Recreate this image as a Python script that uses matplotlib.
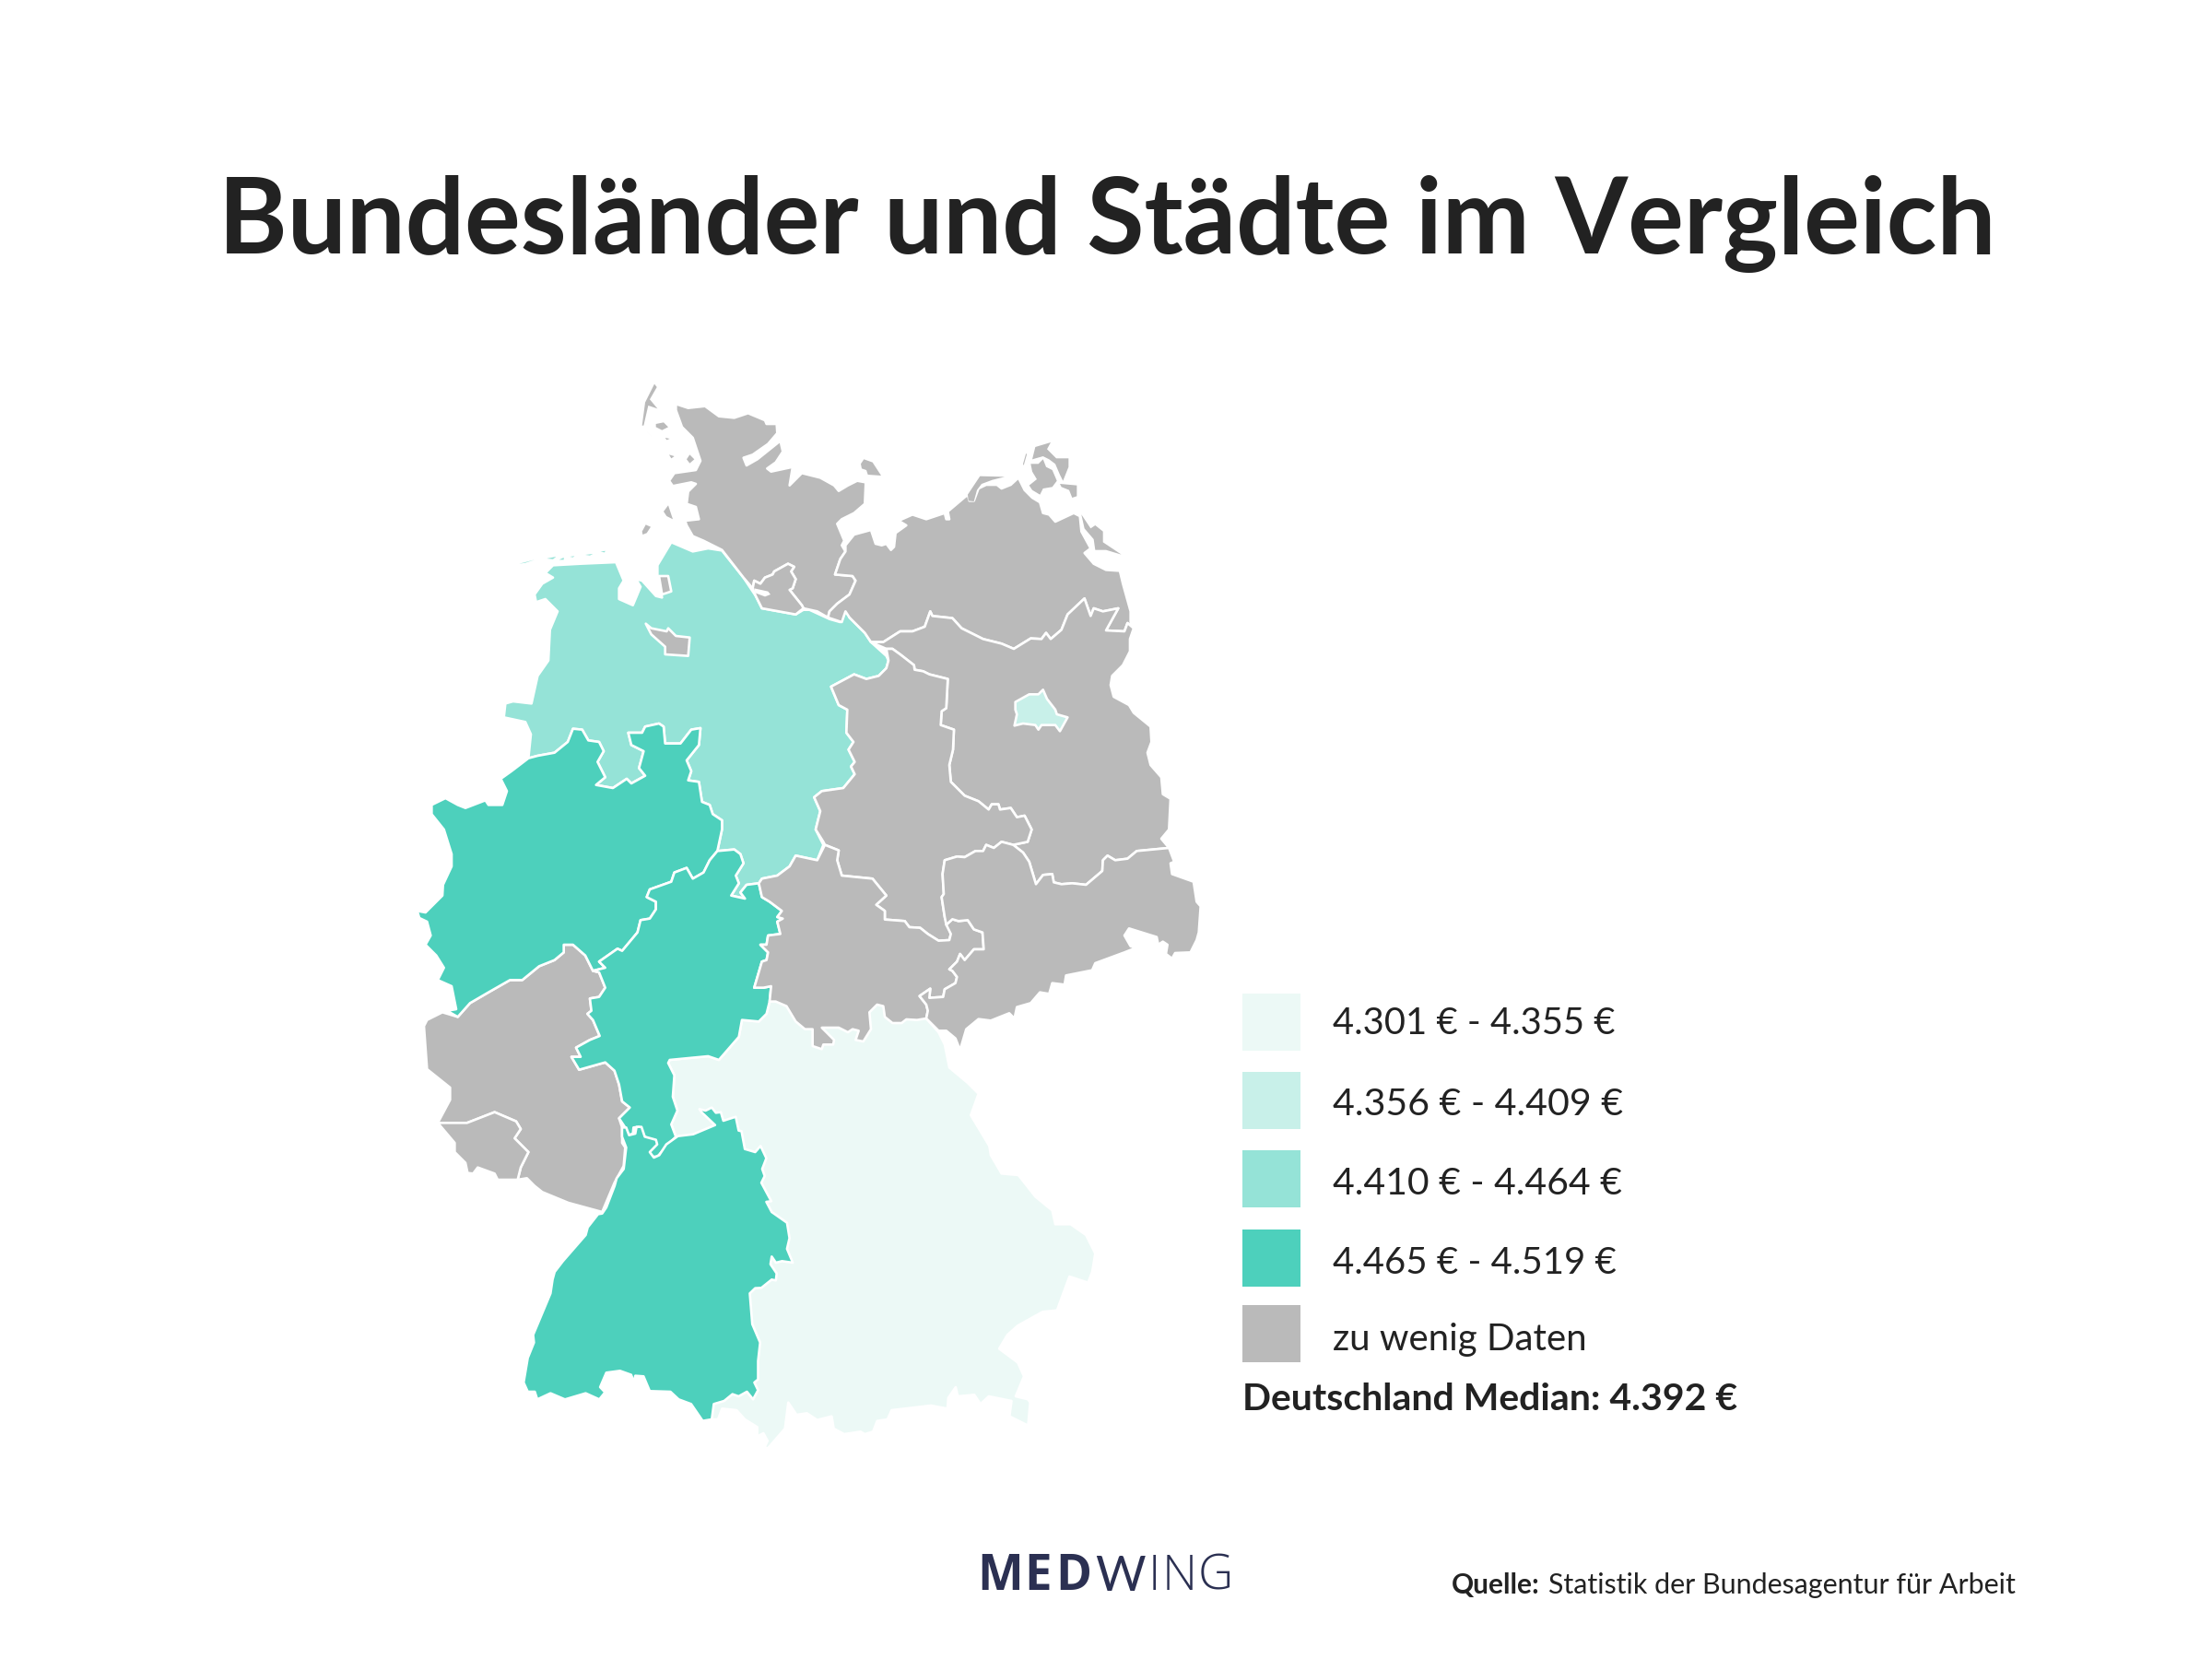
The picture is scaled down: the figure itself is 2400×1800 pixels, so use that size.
import matplotlib
matplotlib.use("Agg")
import matplotlib.pyplot as plt
from matplotlib.patches import Polygon, Rectangle

Z1 = (430, 400, 3, 3)
Z2 = (830, 400, 3, 3)
Z3 = (430, 900, 3, 3)
Z4 = (830, 900, 3, 3)
Z5 = (530, 1200, 2.229, 3)


def crop(z, pts):
    return [(z[0] + x / z[2], z[1] + y / z[3]) for x, y in pts]


LEGEND_LABELS = ["4.301 € - 4.355 €", "4.356 € - 4.409 €", "4.410 € - 4.464 €",
                 "4.465 € - 4.519 €", "zu wenig Daten"]
LEGEND_COLORS = ["#ECF9F6", "#C8F0E9", "#95E3D7", "#4DD0BC", "#BABABA"]
MEDIAN_TEXT = "Deutschland Median: 4.392 €"

BAYERN = (
    crop(Z3, [(910, 1000), (895, 960), (915, 915), (900, 870), (905, 800), (885, 760),
              (890, 750), (1015, 738), (1050, 750), (1115, 675), (1125, 620), (1180, 625),
              (1205, 600), (1215, 560)])
    + crop(Z4, [(200, 500), (500, 600), (525, 615), (565, 660), (585, 700), (600, 775),
                (660, 825), (695, 860), (670, 930), (730, 1030), (735, 1060), (770, 1120),
                (825, 1125), (880, 1195), (935, 1240), (945, 1285), (995, 1285), (1045, 1320),
                (1075, 1380), (1065, 1440)])
    + crop(Z5, [(1450, 575), (1405, 555), (1375, 665), (1340, 670), (1280, 715), (1255, 745),
                (1235, 790), (1280, 835), (1295, 880), (1275, 945), (1305, 955), (1310, 965),
                (1305, 1040), (1260, 1010), (1265, 960), (1210, 945), (1190, 970), (1175, 940),
                (1135, 945), (1130, 915), (1112, 950), (1110, 985), (1070, 975), (975, 990),
                (965, 1020), (940, 1025), (930, 1060), (910, 1068), (900, 1060), (860, 1068),
                (835, 1050), (830, 1010), (795, 1022), (770, 1000), (745, 1005), (725, 965),
                (717, 1050), (675, 1115), (668, 1110), (675, 1090), (665, 1065), (650, 1075),
                (650, 1045), (620, 1020), (600, 990), (565, 985), (555, 1020), (540, 1020),
                (500, 500), (440, 130)])
)

NIEDERSACHSEN = (
    crop(Z1, [(895, 565), (965, 595), (1015, 585), (1060, 592), (1130, 680), (1170, 740),
              (1190, 780), (1300, 800), (1325, 785), (1345, 785), (1410, 815), (1445, 825),
              (1455, 795), (1470, 795)])
    + crop(Z2, [(275, 810), (325, 860), (345, 890), (395, 935), (402, 950), (395, 975),
                (370, 1000), (330, 1010), (290, 995), (215, 1035), (240, 1095), (268, 1110),
                (265, 1185), (288, 1215), (272, 1240), (292, 1280), (280, 1295), (292, 1320),
                (255, 1365), (185, 1375), (160, 1395), (180, 1440), (165, 1500)])
    + crop(Z3, [(1390, 50), (1370, 100), (1300, 85), (1280, 120), (1240, 150), (1190, 160),
                (1180, 175), (1140, 180), (1120, 205), (1135, 225), (1090, 215), (1115, 175),
                (1105, 150), (1130, 110), (1120, 80), (1100, 65), (1045, 70), (1060, 0)])
    + crop(Z1, [(1060, 1470), (1030, 1450), (1020, 1420), (995, 1410), (985, 1345), (950, 1340),
                (960, 1310), (945, 1275), (985, 1225), (990, 1170), (960, 1175), (925, 1220),
                (875, 1220), (870, 1165), (855, 1155), (810, 1165), (800, 1185), (755, 1185),
                (765, 1225), (805, 1245), (790, 1300), (810, 1325), (765, 1350), (750, 1335),
                (705, 1365), (650, 1355), (680, 1330), (655, 1280), (675, 1245), (660, 1215),
                (625, 1210), (605, 1175), (575, 1172), (558, 1215), (515, 1250), (460, 1260),
                (430, 1268), (438, 1190), (420, 1150), (350, 1135), (355, 1090), (380, 1083),
                (440, 1090), (460, 1000), (495, 950), (500, 850), (525, 790), (485, 750),
                (455, 760), (450, 735), (475, 700), (510, 680), (485, 665), (510, 640),
                (600, 635), (715, 630), (740, 690), (725, 715), (725, 750), (770, 770),
                (795, 710), (780, 685), (800, 690), (845, 740), (865, 745), (850, 670),
                (850, 640)])
)
OSTFRIESISCHE_INSELN = [
    crop(Z1, [(400, 635), (450, 622), (420, 632)]),
    crop(Z1, [(490, 618), (520, 612), (510, 620)]),
    crop(Z1, [(530, 622), (545, 615), (545, 622)]),
    crop(Z1, [(565, 612), (580, 610), (575, 614)]),
    crop(Z1, [(615, 606), (640, 603), (630, 608)]),
    crop(Z1, [(665, 596), (680, 593), (678, 598)]),
]

NRW = (
    crop(Z1, [(430, 1268), (460, 1260), (515, 1250), (558, 1215), (575, 1172), (605, 1175),
              (625, 1210), (660, 1215), (675, 1245), (655, 1280), (680, 1330), (650, 1355),
              (705, 1365), (750, 1335), (765, 1350), (810, 1325), (790, 1300), (805, 1245),
              (765, 1225), (755, 1185), (800, 1185), (810, 1165), (855, 1155), (870, 1165),
              (875, 1220), (925, 1220), (960, 1175), (990, 1170), (985, 1225), (945, 1275),
              (960, 1310), (950, 1340), (985, 1345), (995, 1410), (1020, 1420), (1030, 1450),
              (1060, 1470), (1060, 1500)])
    + crop(Z3, [(1045, 70), (1020, 100), (1000, 140), (965, 160), (945, 125), (905, 140),
                (895, 170), (825, 195), (815, 220), (845, 235), (845, 260), (825, 290),
                (795, 295), (785, 335), (760, 365), (735, 395), (720, 388), (660, 430),
                (680, 450), (640, 460), (615, 410), (575, 375), (545, 375), (545, 400),
                (515, 425), (465, 445), (410, 490), (370, 490), (300, 530), (240, 565),
                (200, 610), (165, 590), (195, 585), (180, 510), (135, 490), (155, 450),
                (130, 410), (95, 375), (112, 345), (100, 300), (75, 288), (68, 265), (95, 270),
                (150, 215), (152, 180), (180, 120), (180, 80), (155, 0)])
    + crop(Z1, [(115, 1450), (115, 1420), (160, 1398), (200, 1420), (225, 1430), (290, 1405),
                (300, 1420), (345, 1420), (360, 1375), (340, 1335), (375, 1310)])
)

HESSEN = crop(Z3, [
    (1045, 70), (1100, 65), (1120, 80), (1130, 110), (1105, 150), (1115, 175), (1090, 215),
    (1135, 225), (1120, 205), (1140, 180), (1180, 175), (1190, 220), (1215, 235), (1255, 265),
    (1240, 285), (1258, 290), (1240, 300), (1250, 340), (1210, 345), (1205, 375), (1185, 375),
    (1210, 400), (1205, 425), (1190, 430), (1165, 515), (1195, 515), (1220, 510), (1215, 560),
    (1205, 600), (1180, 625), (1125, 620), (1115, 675), (1050, 750), (1015, 738), (890, 750),
    (885, 760), (905, 800), (900, 870), (915, 915), (895, 960), (910, 1000), (880, 1030),
    (850, 1065), (825, 1065), (820, 1050), (845, 1020), (800, 995), (790, 968), (772, 970),
    (770, 990), (755, 995), (745, 970), (725, 940), (760, 905), (735, 885), (725, 830),
    (710, 785), (680, 758), (595, 782), (570, 740), (600, 740), (585, 710), (630, 685),
    (662, 672), (640, 620), (622, 600), (635, 590), (630, 550), (660, 545), (680, 515),
    (660, 465), (640, 460), (680, 450), (660, 430), (720, 388), (735, 395), (760, 365),
    (785, 335), (795, 295), (825, 290), (845, 260), (845, 235), (815, 220), (825, 195),
    (895, 170), (905, 140), (945, 125), (965, 160), (1000, 140), (1020, 100),
])

BADEN_WUERTTEMBERG = crop(Z5, [
    (323, 70), (333, 70), (340, 95), (355, 90), (358, 68), (370, 68), (378, 100), (405, 110),
    (408, 125), (390, 150), (400, 168), (413, 160), (430, 125), (458, 98), (495, 92),
    (548, 62), (515, 20), (510, 10), (525, 15), (540, 5), (550, 22), (562, 20), (568, 48),
    (598, 35), (605, 80), (612, 82), (620, 140), (645, 150), (658, 130), (672, 170),
    (662, 205), (668, 228), (660, 250), (684, 310), (672, 312), (685, 345), (722, 380),
    (728, 430), (722, 465), (736, 510), (710, 505), (695, 510), (685, 490), (682, 515),
    (697, 545), (695, 568), (685, 565), (660, 592), (645, 593), (632, 610), (638, 710),
    (657, 770), (652, 830), (652, 890), (643, 900), (652, 925), (640, 955), (625, 930),
    (605, 945), (590, 938), (570, 960), (545, 970), (540, 1020), (518, 1025), (490, 970),
    (460, 955), (440, 930), (390, 928), (375, 880), (355, 878), (352, 900), (345, 875),
    (318, 862), (285, 868), (270, 915), (282, 932), (268, 955), (235, 935), (185, 955),
    (150, 935), (118, 955), (112, 930), (95, 930), (85, 900), (95, 820), (110, 770),
    (108, 745), (150, 610), (155, 565), (160, 540), (180, 505), (235, 420), (240, 395),
    (265, 352), (275, 350), (285, 330), (305, 260), (310, 235), (327, 205), (333, 135),
    (323, 100),
])

RHEINLAND_PFALZ = crop(Z3, [
    (545, 375), (575, 375), (615, 410), (640, 460), (660, 465), (680, 515), (660, 545),
    (630, 550), (635, 590), (622, 600), (640, 620), (662, 672), (630, 685), (585, 710),
    (600, 740), (570, 740), (595, 782), (680, 758), (710, 785), (725, 830), (735, 885),
    (760, 905), (725, 940), (735, 970), (735, 1020), (745, 1035), (740, 1095), (710, 1150),
    (670, 1245), (560, 1215), (475, 1180), (450, 1160), (425, 1135), (395, 1140), (405, 1100),
    (430, 1050), (385, 1005), (405, 975), (390, 950), (320, 920), (230, 955), (135, 955),
    (175, 880), (175, 840), (100, 780), (90, 640), (100, 620), (150, 595), (200, 610),
    (240, 565), (300, 530), (370, 490), (410, 490), (465, 445), (515, 425), (545, 400),
])

SAARLAND = crop(Z3, [
    (135, 955), (230, 955), (320, 920), (390, 950), (405, 975), (385, 1005), (430, 1050),
    (405, 1100), (395, 1140), (330, 1140), (320, 1120), (265, 1100), (250, 1120), (232, 1118),
    (225, 1085), (190, 1050), (190, 1020),
])

HAMBURG_RAND = [(1165, 690), (1185, 700), (1200, 680), (1225, 670), (1230, 660), (1275, 635),
                (1295, 645), (1285, 660), (1300, 685), (1290, 715), (1280, 720), (1320, 770),
                (1325, 780)]
HAMBURG = crop(Z1, HAMBURG_RAND + [(1300, 800), (1190, 780), (1170, 740), (1160, 715)])
ELBE = crop(Z1, [(1165, 715), (1210, 725), (1218, 735), (1200, 742), (1168, 730)])

SCHLESWIG_HOLSTEIN = (
    crop(Z1, [(910, 115), (950, 128), (1005, 122), (1050, 155), (1100, 160), (1145, 145),
              (1200, 168), (1205, 180), (1238, 180), (1240, 210), (1210, 245), (1160, 280),
              (1130, 290), (1140, 315), (1175, 295), (1250, 235), (1258, 270), (1235, 305),
              (1207, 325), (1220, 335), (1290, 320), (1280, 380), (1320, 340), (1380, 355),
              (1425, 380), (1440, 398), (1470, 380)])
    + crop(Z2, [(300, 365), (328, 370), (325, 440), (290, 470), (250, 490), (235, 505),
                (258, 560), (250, 575), (262, 595), (245, 620), (228, 670), (285, 675),
                (295, 690), (275, 735), (235, 765), (210, 790), (205, 810), (170, 790),
                (125, 780)])
    + crop(Z1, HAMBURG_RAND[::-1] + [(1160, 715), (1130, 680), (1060, 590), (1000, 560),
                                     (965, 545), (945, 510), (940, 495), (985, 490), (975, 450),
                                     (945, 440), (950, 400), (975, 375), (960, 370), (900, 382),
                                     (888, 365), (905, 340), (975, 330), (990, 300), (965, 225),
                                     (930, 190), (910, 135)])
)
SH_INSELN = [
    crop(Z1, [(840, 50), (848, 60), (825, 100), (850, 130), (820, 120), (805, 185), (800, 185),
              (810, 110)]),
    crop(Z1, [(845, 180), (870, 175), (885, 190), (865, 200), (845, 190)]),
    crop(Z1, [(815, 205), (830, 220), (825, 215)]),
    crop(Z1, [(945, 295), (955, 280), (970, 295), (955, 308)]),
    crop(Z1, [(875, 225), (890, 228), (880, 232)]),
    crop(Z1, [(888, 280), (905, 285), (895, 292)]),
    crop(Z1, [(870, 465), (885, 445), (900, 490), (880, 480)]),
    crop(Z1, [(800, 530), (812, 508), (828, 515), (815, 535), (802, 540)]),
    crop(Z2, [(312, 310), (322, 295), (350, 305), (378, 348), (335, 345), (330, 330), (315, 325)]),
]

MV_SUED = [(1200, 845), (1180, 828), (1170, 855), (1110, 852), (1150, 780), (1100, 790),
           (1070, 780), (1060, 805), (1040, 748), (985, 800), (965, 850), (930, 880),
           (915, 860), (900, 880), (865, 878), (810, 912), (770, 895), (710, 880), (640, 845),
           (610, 812), (545, 805), (538, 790), (520, 840), (480, 855), (440, 855), (385, 890),
           (345, 890)]
MECKLENBURG_VORPOMMERN = crop(Z2, [
    (262, 575), (290, 540), (345, 525), (360, 570), (380, 575), (395, 570), (410, 590),
    (420, 580), (425, 535), (460, 510), (435, 495), (480, 475), (525, 490), (585, 470),
    (590, 490), (600, 490), (595, 465), (660, 410), (665, 430), (680, 430), (695, 390),
    (720, 378), (755, 378), (770, 390), (800, 378), (825, 355), (845, 395), (870, 420),
    (895, 435), (905, 470), (925, 475), (945, 498), (1005, 470), (1025, 480), (1030, 530),
    (1060, 585), (1040, 600), (1070, 635), (1110, 655), (1155, 658), (1165, 700), (1190, 790),
    (1190, 825),
] + MV_SUED + [
    (325, 860), (275, 810), (262, 790), (250, 825), (205, 810), (210, 790), (235, 765),
    (275, 735), (295, 690), (285, 675), (228, 670), (245, 620), (262, 595),
])
MV_INSELN = [
    crop(Z2, [(700, 350), (780, 352), (740, 362), (705, 375), (690, 395), (680, 432), (662, 430),
              (660, 410)]),
    crop(Z2, [(865, 310), (890, 310), (905, 295), (915, 320), (935, 330), (950, 365), (935, 385),
              (905, 390), (895, 410), (870, 395), (860, 380), (885, 360), (870, 335)]),
    crop(Z2, [(880, 255), (930, 240), (918, 262), (948, 292), (988, 292), (988, 320), (970, 365),
              (960, 345), (945, 310), (925, 295), (905, 285), (870, 295)]),
    crop(Z2, [(960, 375), (1015, 380), (1015, 415), (1000, 420), (990, 395), (965, 385)]),
    crop(Z2, [(850, 275), (852, 280), (842, 315), (840, 310)]),
    crop(Z2, [(1030, 475), (1060, 520), (1075, 510), (1100, 530), (1100, 565), (1160, 605),
              (1110, 590), (1075, 590), (1070, 555), (1040, 520)]),
]

BRANDENBURG = (
    crop(Z2, MV_SUED + [(395, 912), (415, 912), (440, 930), (485, 965), (487, 980),
                        (515, 985), (535, 995), (595, 1010), (590, 1105), (575, 1115),
                        (572, 1160), (615, 1175), (612, 1240), (600, 1290), (605, 1345),
                        (650, 1390), (695, 1408), (728, 1435), (738, 1418), (760, 1418),
                        (765, 1435), (800, 1430), (820, 1460), (845, 1455), (868, 1500)])
    + crop(Z4, [(855, 40), (808, 50), (840, 75), (860, 105), (882, 178), (905, 148), (935, 145),
                (940, 172), (965, 178), (1000, 175), (1045, 180), (1098, 135), (1100, 100),
                (1115, 85), (1140, 100), (1180, 95), (1210, 70), (1315, 60), (1290, 30)])
    + crop(Z2, [(1315, 1500), (1320, 1400), (1295, 1385), (1290, 1330), (1255, 1290),
                (1245, 1250), (1258, 1215), (1255, 1165), (1200, 1120), (1185, 1095),
                (1135, 1068), (1125, 1030), (1130, 1000), (1165, 965), (1188, 920), (1188, 880)])
)

BERLIN = crop(Z2, [
    (815, 1085), (860, 1060), (890, 1060), (905, 1045), (918, 1075), (945, 1110), (950, 1125),
    (985, 1135), (960, 1180), (945, 1160), (900, 1160), (890, 1175), (880, 1160), (840, 1155),
    (812, 1162), (820, 1125), (815, 1110),
])

SACHSEN_ANHALT = (
    crop(Z2, [(215, 1035), (290, 995), (330, 1010), (370, 1000), (395, 975), (402, 950),
              (395, 912), (415, 912), (440, 930), (485, 965), (487, 980), (515, 985),
              (535, 995), (595, 1010), (590, 1105), (575, 1115), (572, 1160), (615, 1175),
              (612, 1240), (600, 1290), (605, 1345), (650, 1390), (695, 1408), (728, 1435),
              (738, 1418), (760, 1418), (765, 1435), (800, 1430), (820, 1460), (845, 1455),
              (868, 1500)])
    + crop(Z4, [(855, 40), (808, 50), (770, 40), (745, 60), (720, 50), (710, 70), (685, 70),
                (650, 90), (625, 88), (585, 100), (578, 145), (582, 210), (575, 220), (585, 285),
                (605, 340), (600, 360), (565, 362), (530, 340), (505, 320), (470, 318),
                (455, 298), (390, 293), (390, 265), (362, 245), (395, 215), (350, 160),
                (250, 150), (235, 100), (240, 68), (195, 50), (190, 40), (165, 0)])
    + crop(Z2, [(180, 1440), (160, 1395), (185, 1375), (255, 1365), (292, 1320), (280, 1295),
                (292, 1280), (272, 1240), (288, 1215), (265, 1185), (268, 1110), (240, 1095)])
)

THUERINGEN = (
    crop(Z4, [(195, 50), (240, 68), (235, 100), (250, 150), (350, 160), (395, 215), (362, 245),
              (390, 265), (390, 293), (455, 298), (470, 318), (505, 320), (530, 340), (565, 362),
              (600, 360), (605, 340), (590, 310), (610, 292), (630, 298), (660, 295), (680, 325),
              (708, 335), (712, 390), (680, 390), (650, 425), (635, 405), (625, 430), (600, 455),
              (610, 460), (625, 480), (620, 500), (585, 520), (580, 545), (535, 548), (538, 518),
              (503, 542), (525, 570), (530, 590), (525, 615), (495, 620), (460, 618), (445, 630),
              (415, 630), (390, 610), (385, 575), (365, 570), (340, 595), (345, 650), (320, 690),
              (295, 685), (305, 655), (285, 650), (270, 660), (240, 645), (185, 645), (225, 685),
              (222, 700), (190, 700), (185, 715), (155, 705), (155, 650), (130, 650), (100, 625),
              (70, 575), (35, 560)])
    + crop(Z3, [(1215, 560), (1220, 510), (1195, 515), (1165, 515), (1190, 430), (1205, 425),
                (1210, 400), (1185, 375), (1205, 375), (1210, 345), (1250, 340), (1240, 300),
                (1258, 290), (1240, 285), (1255, 265), (1215, 235), (1190, 220), (1180, 175),
                (1190, 160), (1240, 150), (1280, 120), (1300, 85), (1370, 100), (1390, 60)])
)

SACHSEN = crop(Z4, [
    (808, 50), (840, 75), (860, 105), (882, 178), (905, 148), (935, 145), (940, 172), (965, 178),
    (1000, 175), (1045, 180), (1098, 135), (1100, 100), (1115, 85), (1140, 100), (1180, 95),
    (1210, 70), (1315, 60), (1332, 105), (1320, 110), (1325, 145), (1395, 170), (1405, 235),
    (1418, 250), (1412, 335), (1405, 360), (1385, 400), (1335, 402), (1325, 420), (1305, 405),
    (1310, 375), (1295, 365), (1280, 375), (1275, 350), (1185, 322), (1170, 345), (1190, 380),
    (1208, 385), (1170, 400), (1075, 435), (1065, 458), (980, 475), (975, 505), (935, 500),
    (925, 535), (895, 530), (865, 565), (820, 578), (812, 615), (795, 598), (735, 622),
    (695, 617), (655, 650), (635, 718), (620, 680), (590, 655), (565, 655), (525, 615),
    (530, 590), (525, 570), (503, 542), (538, 518), (535, 548), (580, 545), (585, 520),
    (620, 500), (625, 480), (610, 460), (600, 455), (625, 430), (635, 405), (650, 425),
    (680, 390), (712, 390), (708, 335), (680, 325), (660, 295), (630, 298), (610, 292),
    (590, 310), (585, 285), (575, 220), (582, 210), (578, 145), (585, 100), (625, 88), (650, 90),
    (685, 70), (710, 70), (720, 50), (745, 60), (770, 40),
])

BREMERHAVEN = crop(Z1, [(855, 675), (885, 675), (895, 725), (865, 735)])
BREMEN = crop(Z1, [(812, 830), (830, 845), (880, 855), (885, 845), (910, 870), (955, 875),
                   (950, 935), (875, 930), (875, 905), (830, 865)])

# (outlines, index into LEGEND_COLORS), later ones are drawn on top
STATES = [
    ([BAYERN], 0),
    ([NIEDERSACHSEN], 2),
    ([RHEINLAND_PFALZ, SAARLAND], 4),
    ([NRW], 3),
    ([HESSEN], 3),
    ([BADEN_WUERTTEMBERG], 3),
    ([SCHLESWIG_HOLSTEIN, HAMBURG], 4),
    ([MECKLENBURG_VORPOMMERN], 4),
    ([BRANDENBURG], 4),
    ([BERLIN], 1),
    ([SACHSEN_ANHALT], 4),
    ([THUERINGEN], 4),
    ([SACHSEN], 4),
    ([BREMERHAVEN, BREMEN], 4),
]
# too small for the white border
ISLANDS = [
    (OSTFRIESISCHE_INSELN, 2),
    (SH_INSELN, 4),
    (MV_INSELN, 4),
]


def fit_width(fig, text, width):
    box = text.get_window_extent(fig.canvas.get_renderer())
    text.set_fontsize(text.get_fontsize() * width / box.width)


def main():
    fig = plt.figure(figsize=(12, 9), dpi=200)
    ax = fig.add_axes([0, 0, 1, 1])
    ax.set_xlim(0, 2400)
    ax.set_ylim(1800, 0)
    ax.axis("off")

    dark = "#222222"
    title = ax.text(1201, 243, "Bundesländer und Städte im Vergleich", family="Lato",
                    weight="bold", fontsize=40, color=dark, ha="center", va="center")
    fit_width(fig, title, 1931)

    for outlines, idx in STATES:
        for outline in outlines:
            ax.add_patch(Polygon(outline, closed=True, facecolor=LEGEND_COLORS[idx],
                                 edgecolor="white", linewidth=0.95, joinstyle="round"))
    for outlines, idx in ISLANDS:
        for outline in outlines:
            ax.add_patch(Polygon(outline, closed=True, facecolor=LEGEND_COLORS[idx],
                                 edgecolor="none"))
    ax.add_patch(Polygon(ELBE, closed=True, facecolor="white", edgecolor="none"))

    tops = [1078, 1163, 1248, 1334, 1416]
    text_ys = [1111, 1199, 1284, 1370, 1453]
    widths = [306, 316, 315, 308, 276]
    for top, y, label, color, w in zip(tops, text_ys, LEGEND_LABELS, LEGEND_COLORS, widths):
        ax.add_patch(Rectangle((1348, top), 63, 62, facecolor=color, edgecolor="none"))
        t = ax.text(1446, y, label, family="Lato", fontsize=14, color=dark, va="center")
        fit_width(fig, t, w)
    t = ax.text(1348, 1519, MEDIAN_TEXT, family="Lato", weight="bold", fontsize=14,
                color=dark, va="center")
    fit_width(fig, t, 538)

    navy = "#2B3052"
    for letter, x, weight, family in [("M", 1060, "bold", "Open Sans"),
                                      ("E", 1111, "bold", "Open Sans"),
                                      ("D", 1145, "bold", "Open Sans"),
                                      ("W", 1188, "normal", "Lato"),
                                      ("I", 1246, "light", "Open Sans"),
                                      ("N", 1261, "light", "Open Sans"),
                                      ("G", 1300, "light", "Open Sans")]:
        ax.text(x, 1711, letter, family=family, weight=weight, fontsize=19,
                color=navy, va="center", ha="left")

    t = ax.text(1575, 1720, "Quelle:", family="Lato", weight="bold", fontsize=9.5,
                color=dark, va="center")
    fit_width(fig, t, 95)
    t = ax.text(1680, 1720, "Statistik der Bundesagentur für Arbeit", family="Lato",
                fontsize=9.5, color=dark, va="center")
    fit_width(fig, t, 508)

    fig.savefig("out.png", dpi=200, facecolor="white")


if __name__ == "__main__":
    main()
